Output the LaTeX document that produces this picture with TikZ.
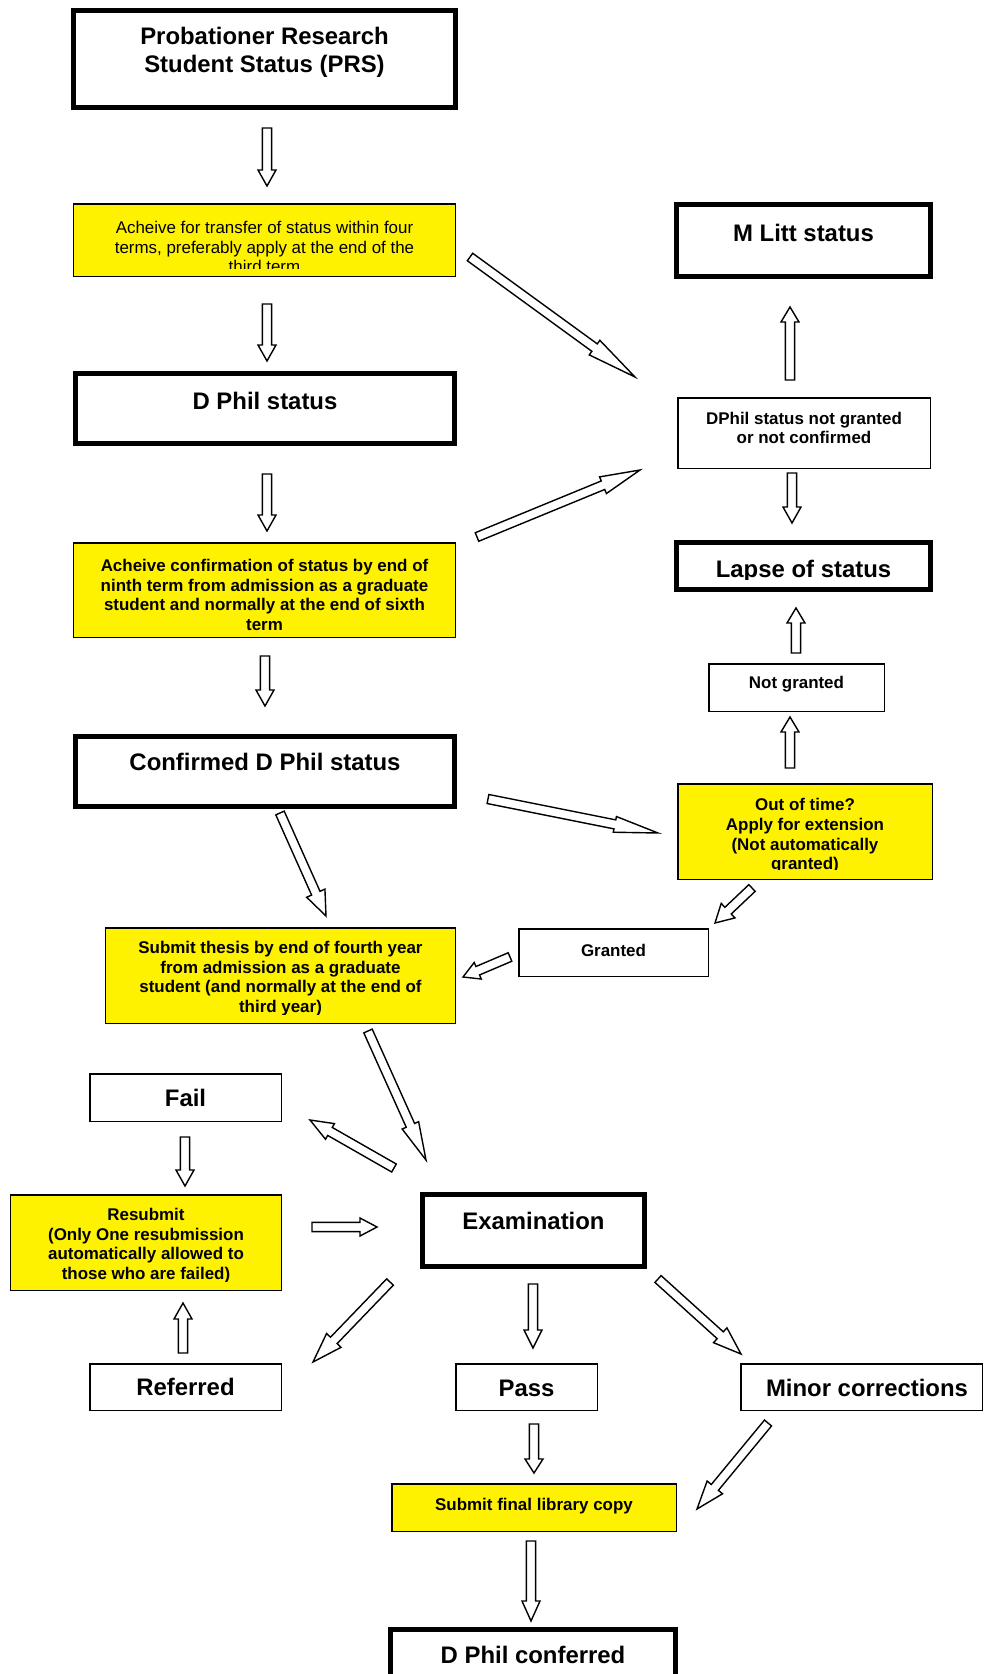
\documentclass[tikz,border=0pt]{standalone}
\usepackage{fontspec}
\setmainfont{Liberation Sans}
\usetikzlibrary{calc}

% hollow block arrow: #1 tail, #2 tip, #3 head length, #4 head half width
\newcommand{\fatarrow}[4]{%
  \path ($(#2)!#3!(#1)$) coordinate (hb);
  \draw[blockarrow] ($(#1)!4.6bp!90:(#2)$) -- ($(hb)!4.6bp!90:(#2)$)
    -- ($(hb)!#4!90:(#2)$) -- (#2) -- ($(hb)!#4!-90:(#2)$)
    -- ($(hb)!4.6bp!-90:(#2)$) -- ($(#1)!4.6bp!-90:(#2)$) -- cycle;}

\begin{document}
\begin{tikzpicture}[
    x=1bp, y=-1bp,
    heavybox/.style={draw, line width=5bp, inner sep=0pt},
    lightbox/.style={draw, line width=1.5bp, inner sep=0pt},
    notebox/.style={lightbox, fill=yellow},
    bigtxt/.style={font=\bfseries\fontsize{24}{28}\selectfont, align=center, inner sep=0pt},
    smalltxt/.style={font=\bfseries\fontsize{17}{19.7}\selectfont, align=center, inner sep=0pt},
    plaintxt/.style={font=\fontsize{17}{20}\selectfont, align=center, inner sep=0pt},
    blockarrow/.style={draw, fill=white, line width=1.4bp, line join=miter}
  ]
  \useasboundingbox (0,0) rectangle (985,1674);
  \clip (0,0) rectangle (985,1674);

  % left column
  \node[heavybox, minimum width=382bp, minimum height=97bp] (prs) at (264.5,59) {};
  \node[bigtxt] (prs-txt) at (264.5,52) {Probationer Research\\Student Status (PRS)};
  \node[notebox, minimum width=381.5bp, minimum height=72.5bp] (transfer) at (264.5,240) {};
  \begin{scope}
    \clip (transfer.north west) rectangle ($(transfer.south east)+(0,-9)$);
    \node[plaintxt] (transfer-txt) at (264.5,247) {Acheive for transfer of status within four\\terms, preferably apply at the end of the\\third term};
  \end{scope}
  \node[heavybox, minimum width=379bp, minimum height=70bp] (dphil) at (265,408.5) {};
  \node[bigtxt] (dphil-txt) at (265,401) {D Phil status};
  \node[notebox, minimum width=381.5bp, minimum height=94.5bp] (confirm) at (264.5,590) {};
  \node[smalltxt] (confirm-txt) at (264.5,595) {Acheive confirmation of status by end of\\ninth term from admission as a graduate\\student and normally at the end of sixth\\term};
  \node[heavybox, minimum width=379bp, minimum height=70bp] (confdphil) at (265,771.5) {};
  \node[bigtxt] (confdphil-txt) at (265,762) {Confirmed D Phil status};
  \node[notebox, minimum width=349.5bp, minimum height=95.5bp] (thesis) at (280.5,975.5) {};
  \begin{scope}
    \clip (thesis.north west) rectangle ($(thesis.south east)+(0,-10)$);
    \node[smalltxt] (thesis-txt) at (280.5,978.5) {Submit thesis by end of fourth year\\from admission as a graduate\\student (and normally at the end of\\third year)};
  \end{scope}

  % right column
  \node[heavybox, minimum width=254bp, minimum height=72bp] (mlitt) at (803.5,240.5) {};
  \node[bigtxt] (mlitt-txt) at (803.5,233) {M Litt status};
  \node[lightbox, minimum width=252.5bp, minimum height=70.5bp] (notgr) at (804,433) {};
  \node[smalltxt] (notgr-txt) at (804,428) {DPhil status not granted\\or not confirmed};
  \node[heavybox, minimum width=254bp, minimum height=47bp] (lapse) at (803.5,566) {};
  \begin{scope}
    \clip (lapse.north west) rectangle ($(lapse.south east)+(0,-12.5)$);
    \node[bigtxt] (lapse-txt) at (803.5,571) {Lapse of status};
  \end{scope}
  \node[lightbox, minimum width=175.5bp, minimum height=47.5bp] (notgranted) at (796.5,687.5) {};
  \node[smalltxt] (notgranted-txt) at (796.5,684) {Not granted};
  \node[notebox, minimum width=254.5bp, minimum height=95.5bp] (extension) at (805,831.5) {};
  \begin{scope}
    \clip (extension.north west) rectangle ($(extension.south east)+(0,-10.5)$);
    \node[smalltxt] (extension-txt) at (805,836) {Out of time?\\Apply for extension\\(Not automatically\\granted)};
  \end{scope}
  \node[lightbox, minimum width=189.5bp, minimum height=47.5bp] (granted) at (613.5,952.5) {};
  \node[smalltxt] (granted-txt) at (613.5,950) {Granted};

  % examination and outcomes
  \node[lightbox, minimum width=191.5bp, minimum height=47.5bp] (fail) at (185.5,1097.5) {};
  \node[bigtxt] (fail-txt) at (185.5,1098) {Fail};
  \node[notebox, minimum width=270.5bp, minimum height=95.5bp] (resubmit) at (146,1242.5) {};
  \begin{scope}
    \clip (resubmit.north west) rectangle ($(resubmit.south east)+(0,-10)$);
    \node[smalltxt] (resubmit-txt) at (146,1245.5) {Resubmit\\(Only One resubmission\\automatically allowed to\\those who are failed)};
  \end{scope}
  \node[heavybox, minimum width=222bp, minimum height=72bp] (exam) at (533.5,1230.5) {};
  \node[bigtxt] (exam-txt) at (533.5,1221) {Examination};
  \node[lightbox, minimum width=191.5bp, minimum height=46.5bp] (referred) at (185.5,1387) {};
  \node[bigtxt] (referred-txt) at (185.5,1387) {Referred};
  \node[lightbox, minimum width=141.5bp, minimum height=46.5bp] (pass) at (526.5,1387) {};
  \node[bigtxt] (pass-txt) at (526.5,1388) {Pass};
  \node[lightbox, minimum width=241.5bp, minimum height=46.5bp] (minor) at (861.5,1387) {};
  \node[bigtxt] (minor-txt) at (867,1388) {Minor corrections};
  \node[notebox, minimum width=284.5bp, minimum height=47.5bp] (library) at (534,1507.5) {};
  \node[smalltxt] (library-txt) at (534,1506) {Submit final library copy};
  \node[heavybox, minimum width=285bp, minimum height=72bp] (conferred) at (533,1665.5) {};
  \node[bigtxt] (conferred-txt) at (533,1655) {D Phil conferred};

  % block arrows: name/tail x/tail y/tip x/tip y/head length/head half width
  \foreach \nm/\xa/\ya/\xb/\yb/\hl/\hw in {
      prs-transfer/267/128/267/186/16/9,
      transfer-dphil/267/304/267/361/16/9,
      dphil-confirm/267/474/267/531/16/9,
      confirm-confdphil/265/656/265/706/16/9,
      transfer-notgr/470/257/635/377/50/9,
      dphil-notgr/477/537/640/470/40/9,
      notgr-mlitt/790/380/790/307/15/9,
      notgr-lapse/792/473/792/523/16/9,
      extension-notgranted/790/768/790/717/15/9,
      notgranted-lapse/796/653/796/608/15/9,
      confdphil-extension/488/799/658/833/44/8,
      extension-granted/752/888/715/923/18/10,
      granted-thesis/510/957/463/977/16/9,
      confdphil-thesis/280/813/326/916/25/10,
      thesis-exam/368/1031/426/1160/38/9,
      exam-fail/394/1168/310/1120/23/9,
      fail-resubmit/185/1137/185/1186/16/9,
      resubmit-exam/312/1227/377/1227/17/9,
      referred-resubmit/183/1353/183/1303/16/9,
      exam-referred/390/1282/313/1362/30/10,
      exam-pass/533/1284/533/1348/18/9,
      exam-minor/658/1279/741/1354/28/10,
      pass-library/534/1424/534/1473/14/9,
      minor-library/768/1423/697/1509/28/10,
      library-conferred/531/1541/531/1621/20/9} {
    \coordinate (\nm-s) at (\xa,\ya);
    \coordinate (\nm-e) at (\xb,\yb);
    \fatarrow{\nm-s}{\nm-e}{\hl bp}{\hw bp}
  }
\end{tikzpicture}
\end{document}
